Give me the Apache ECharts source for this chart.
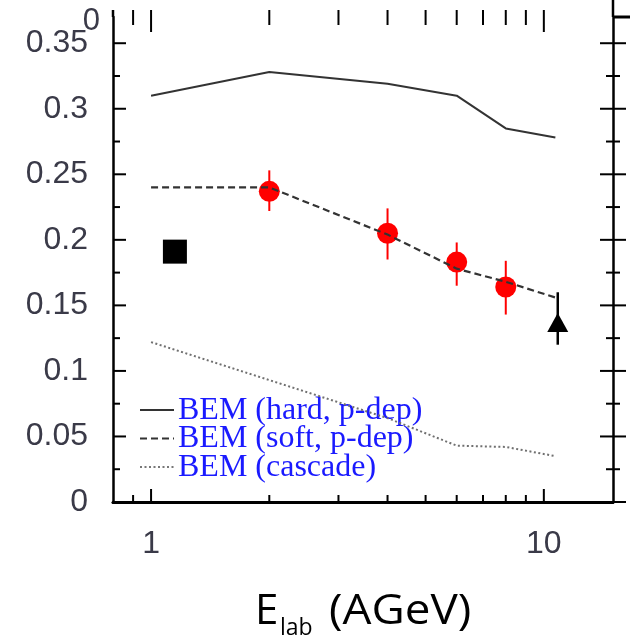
<!DOCTYPE html>
<html><head><meta charset="utf-8">
<script src="https://cdn.jsdelivr.net/npm/echarts@6/dist/echarts.min.js"></script>
<style>html,body{margin:0;padding:0;background:#fff}#c{width:630px;height:636px}</style>
</head><body><div id="c"></div>
<script>
// ---- data ----
const energies  = [1, 2, 4, 6, 8, 10.7];
const hardPdep  = [0.310, 0.328, 0.319, 0.310, 0.285, 0.278];
const softPdep  = [0.240, 0.240, 0.204, 0.178, 0.168, 0.156];
const cascade   = [0.122, 0.093, 0.064, 0.043, 0.042, 0.035];
const redX  = [2, 4, 6, 8];
const redY  = [0.237, 0.205, 0.183, 0.164];
const redLo = [0.222, 0.185, 0.165, 0.143];
const redHi = [0.253, 0.224, 0.198, 0.184];
const squareX = [1.15], squareY = [0.191];
const triX = [10.85], triY = [0.137], triLo = [0.120], triHi = [0.160];
const xTickVals = [0.9, 1, 2, 3, 4, 5, 6, 7, 8, 9, 10];
const xMajorVals = [1, 10];
const xLabelVals = [1, 10];
const yTickVals = [0, 0.025, 0.05, 0.075, 0.1, 0.125, 0.15, 0.175, 0.2, 0.225, 0.25, 0.275, 0.3, 0.325, 0.35];
const legendNames = ['BEM (hard, p-dep)', 'BEM (soft, p-dep)', 'BEM (cascade)'];
const xTitleMain = 'E', xTitleSub = 'lab', xTitleRest = '(AGeV)';
const X_MIN = 0.8, X_MAX = 15, Y_MIN = 0, Y_MAX = 0.37;

const chart = echarts.init(document.getElementById('c'));
const lineCol = '#333';
const labelCol = '#3a3a48';
const axisLineStyle = {color: '#000', width: 2.5};

function errRender(color, w) {
  return function (params, api) {
    const x = api.value(0);
    const a = api.coord([x, api.value(1)]);
    const b = api.coord([x, api.value(2)]);
    return {type: 'line', shape: {x1: a[0], y1: a[1], x2: b[0], y2: b[1]}, style: {stroke: color, lineWidth: w}};
  };
}

function xTickRender(params, api) {
  const v = api.value(0), major = api.value(1) === 1;
  const cs = params.coordSys;
  const px = api.coord([v, 0])[0];
  const yb = cs.y + cs.height, yt = cs.y;
  const st = {stroke: '#000', lineWidth: 2};
  return {type: 'group', children: [
    {type: 'line', shape: {x1: px, y1: yb, x2: px, y2: yb - (major ? 13 : 7)}, style: st},
    major ? {type: 'line', shape: {x1: px, y1: yt - 7, x2: px, y2: yt + 15}, style: st}
          : {type: 'line', shape: {x1: px, y1: yt - 7, x2: px, y2: yt + 8}, style: st}
  ]};
}

function yTickRender(params, api) {
  const v = api.value(1), major = api.value(2) === 1;
  const cs = params.coordSys;
  const py = api.coord([1, v])[1];
  const xl = cs.x, xr = cs.x + cs.width;
  const L = major ? 13 : 7;
  const st = {stroke: '#000', lineWidth: 2};
  return {type: 'group', children: [
    {type: 'line', shape: {x1: xl, y1: py, x2: xl + L, y2: py}, style: st},
    {type: 'line', shape: {x1: xr - L, y1: py, x2: xr + L, y2: py}, style: st}
  ]};
}

const isMultiple = (v, step) => Math.abs(v / step - Math.round(v / step)) < 1e-6;

const legendY = [410, 438.5, 467];
const legendDash = [null, [7, 4], [2, 2.5]];
const legendCol = [lineCol, lineCol, '#777'];
const graphics = [];
legendNames.forEach((n, i) => {
  graphics.push({type: 'line', shape: {x1: 140, y1: legendY[i], x2: 174, y2: legendY[i]},
    style: {stroke: legendCol[i], lineWidth: 2, lineDash: legendDash[i]}});
  graphics.push({type: 'text', x: 178, y: legendY[i] + 0.5,
    style: {text: n, font: '32px "Liberation Serif"', fill: '#1a1aff', align: 'left', verticalAlign: 'middle'}});
});
// frame overhangs (part of the cropped figure)
graphics.push({type: 'line', shape: {x1: 613, y1: 17, x2: 630, y2: 17}, style: {stroke: '#000', lineWidth: 3}});
graphics.push({type: 'line', shape: {x1: 613, y1: 0, x2: 613, y2: 17}, style: {stroke: '#000', lineWidth: 2.5}});
graphics.push({type: 'line', shape: {x1: 113, y1: 10, x2: 113, y2: 17}, style: {stroke: '#000', lineWidth: 2.5}});
// cut-off tick label at the top
graphics.push({type: 'text', x: 100, y: 6,
  style: {text: '0', font: '31px "Liberation Sans"', fill: labelCol, align: 'right', verticalAlign: 'top'}});
// axis title E_lab (AGeV)
graphics.push({type: 'text', x: 255, y: 612.3,
  style: {text: xTitleMain, font: '42px "Open Sans"', fill: '#000', align: 'left', verticalAlign: 'middle'}});
graphics.push({type: 'text', x: 280, y: 628.4,
  style: {text: xTitleSub, font: '23px "Open Sans"', fill: '#000', align: 'left', verticalAlign: 'middle'}});
graphics.push({type: 'text', x: 329, y: 612.3, scaleX: 1.09,
  style: {text: xTitleRest, font: '42px "Open Sans"', fill: '#000', align: 'left', verticalAlign: 'middle'}});

const option = {
  animation: false,
  backgroundColor: '#fff',
  grid: {left: 113, right: 17, top: 17, bottom: 134, containLabel: false},
  xAxis: [
    {type: 'log', logBase: 10, min: X_MIN, max: X_MAX, position: 'bottom',
     axisLine: {lineStyle: axisLineStyle}, axisTick: {show: false}, splitLine: {show: false},
     axisLabel: {fontSize: 32, fontFamily: 'Liberation Sans', color: labelCol, margin: 26,
       formatter: v => (xLabelVals.some(t => Math.abs(t - v) < 1e-6) ? String(Math.round(v)) : '')}},
    {type: 'log', logBase: 10, min: X_MIN, max: X_MAX, position: 'top',
     axisLine: {lineStyle: {color: '#000', width: 3}}, axisTick: {show: false}, axisLabel: {show: false}, splitLine: {show: false}}
  ],
  yAxis: [
    {type: 'value', min: Y_MIN, max: Y_MAX, interval: 0.05, position: 'left',
     axisLine: {show: true, lineStyle: axisLineStyle}, axisTick: {show: false}, splitLine: {show: false},
     axisLabel: {fontSize: 32, fontFamily: 'Liberation Sans', color: labelCol, margin: 25,
       formatter: v => (isMultiple(v, 0.05) && v < Y_MAX - 1e-6 ? String(+v.toFixed(2)) : '')}},
    {type: 'value', min: Y_MIN, max: Y_MAX, interval: 0.05, position: 'right',
     axisLine: {show: true, lineStyle: axisLineStyle}, axisTick: {show: false}, axisLabel: {show: false}, splitLine: {show: false}}
  ],
  graphic: graphics,
  series: [
    {type: 'custom', name: 'xticks', renderItem: xTickRender, clip: false, silent: true, z: 5,
     data: xTickVals.map(v => [v, xMajorVals.includes(v) ? 1 : 0]), encode: {x: 0, y: 1}},
    {type: 'custom', name: 'yticks', renderItem: yTickRender, clip: false, silent: true, z: 5,
     data: yTickVals.map(v => [1, v, isMultiple(v, 0.05) ? 1 : 0]), encode: {x: 0, y: 1}},
    {type: 'line', name: legendNames[0], data: energies.map((x, i) => [x, hardPdep[i]]),
     symbol: 'none', lineStyle: {color: lineCol, width: 2}, z: 3},
    {type: 'line', name: legendNames[2], data: energies.map((x, i) => [x, cascade[i]]),
     symbol: 'none', lineStyle: {color: '#707070', width: 2, type: [2, 2.5]}, z: 3},
    {type: 'custom', name: 'redErr', renderItem: errRender('#ff0000', 2),
     data: redX.map((x, i) => [x, redLo[i], redHi[i]]), encode: {x: 0, y: [1, 2]}, z: 2},
    {type: 'scatter', name: 'data', data: redX.map((x, i) => [x, redY[i]]),
     symbol: 'circle', symbolSize: 21, itemStyle: {color: '#ff0000', opacity: 1}, z: 2},
    {type: 'line', name: legendNames[1], data: energies.map((x, i) => [x, softPdep[i]]),
     symbol: 'none', lineStyle: {color: lineCol, width: 2.2, type: [7, 4]}, z: 4},
    {type: 'scatter', name: 'square', data: squareX.map((x, i) => [x, squareY[i]]),
     symbol: 'rect', symbolSize: 24, itemStyle: {color: '#000', opacity: 1}, z: 4},
    {type: 'custom', name: 'triErr', renderItem: errRender('#000', 2.5),
     data: triX.map((x, i) => [x, triLo[i], triHi[i]]), encode: {x: 0, y: [1, 2]}, z: 4},
    {type: 'scatter', name: 'triangle', data: triX.map((x, i) => [x, triY[i]]),
     symbol: 'triangle', symbolSize: [21, 19], itemStyle: {color: '#000', opacity: 1}, z: 4}
  ]
};
chart.setOption(option);
</script>
</body></html>
